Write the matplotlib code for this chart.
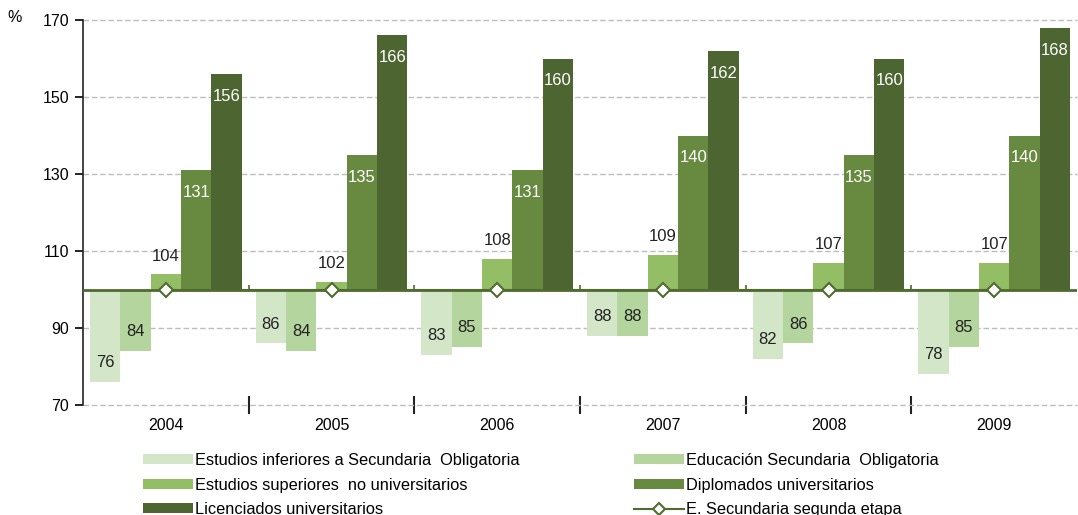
import numpy as np
import matplotlib
matplotlib.use('Agg')
import matplotlib.pyplot as plt

plt.rcParams['font.family'] = ['Liberation Sans', 'DejaVu Sans']

years = ['2004', '2005', '2006', '2007', '2008', '2009']
inferiores = [76, 86, 83, 88, 82, 78]
eso = [84, 84, 85, 88, 86, 85]
sup_no_univ = [104, 102, 108, 109, 107, 107]
diplomados = [131, 135, 131, 140, 135, 140]
licenciados = [156, 166, 160, 162, 160, 168]
sec_segunda = [100, 100, 100, 100, 100, 100]

names = ['Estudios inferiores a Secundaria  Obligatoria',
         'Educación Secundaria  Obligatoria',
         'Estudios superiores  no universitarios',
         'Diplomados universitarios',
         'Licenciados universitarios']
line_name = 'E. Secundaria segunda etapa'
colors = ['#D4E6C8', '#B4D59E', '#93BE65', '#688A40', '#4D6631']
base = 100

fig = plt.figure(figsize=(10.78, 5.15), dpi=100)
ax = fig.add_axes([83/1078, 1-405/515, 994/1078, 385/515])

x = np.arange(len(years))
w = 0.183
series = [inferiores, eso, sup_no_univ, diplomados, licenciados]
bars = []
for k, vals in enumerate(series):
    v = np.array(vals)
    xs = x + (k - 2) * w
    b = ax.bar(xs, v - base, bottom=base, width=w, color=colors[k],
               label=names[k], zorder=2, edgecolor='none')
    bars.append(b)
    for xi, vi in zip(xs, v):
        if k < 2:
            ax.text(xi, vi + 5, '%d' % vi, ha='center', va='center',
                    fontsize=12, color='#222222', zorder=4)
        elif k == 2:
            ax.text(xi, vi + 4.7, '%d' % vi, ha='center', va='center',
                    fontsize=12, color='#222222', zorder=4)
        else:
            ax.text(xi, vi - 5.8, '%d' % vi, ha='center', va='center',
                    fontsize=12, color='white', zorder=4)

ax.axhline(base, color='#4F6B2F', lw=2, zorder=3)
ln, = ax.plot(x, sec_segunda, color='#4F6B2F', lw=1.5, marker='D', ms=7.5,
              mfc='white', mec='#4F6B2F', mew=1.5, zorder=5, label=line_name)

ax.set_xlim(-0.5, 5.5)
ax.set_ylim(70, 170)
ax.set_yticks(np.arange(70, 171, 20))
ax.yaxis.grid(True, color='#BDBDBD', ls=(0, (4, 2)), lw=1)
for gl in ax.get_ygridlines():
    gl.set_clip_on(False)
ax.set_axisbelow(True)
for s in ['top', 'right', 'bottom']:
    ax.spines[s].set_visible(False)
ax.spines['left'].set_color('#222222')
ax.spines['left'].set_linewidth(1.2)
ax.tick_params(axis='y', length=6, width=1.2, labelsize=11.5, pad=4)

bounds = np.arange(0.5, 5.5, 1.0)
ax.set_xticks(bounds)
ax.set_xticklabels([])
ax.tick_params(axis='x', direction='inout', length=13, width=1.5, color='#222222')
ax.vlines(bounds, base, base + 1.2, color='#4F6B2F', lw=1.2, zorder=3)
for xi, yr in zip(x, years):
    ax.text(xi, 64.7, yr, ha='center', va='center', fontsize=11.5,
            transform=ax.transData, clip_on=False)

fig.text(15/1078, 1-18/515, '%', fontsize=11.5, ha='center', va='center')

handles = [bars[0], bars[2], bars[4], bars[1], bars[3], ln]
labels = [names[0], names[2], names[4], names[1], names[3], line_name]
leg = fig.legend(handles, labels, ncol=2, loc='upper left',
                 bbox_to_anchor=(143/1078, 1-453/515), frameon=False,
                 fontsize=11.8, handlelength=3.05, handleheight=0.6,
                 handletextpad=0.12, labelspacing=0.58, columnspacing=7.0,
                 borderpad=0, borderaxespad=0, markerscale=0.8)

fig.savefig('out.png', dpi=100)
